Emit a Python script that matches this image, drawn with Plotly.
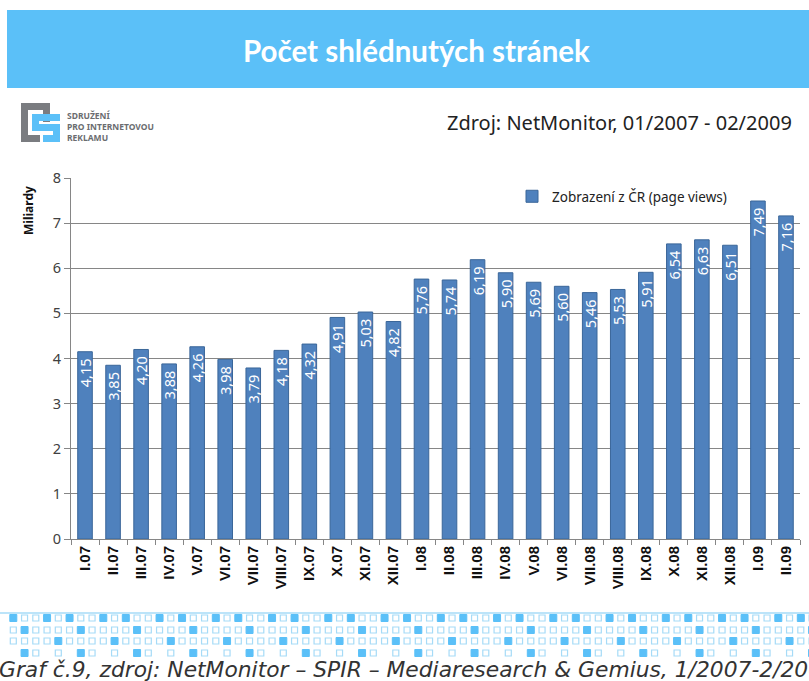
import plotly.graph_objects as go

W, H = 809, 681
# plot area in pixels
L, R, T, B = 71, 800, 178, 539

months = ["I.07", "II.07", "III.07", "IV.07", "V.07", "VI.07", "VII.07", "VIII.07",
          "IX.07", "X.07", "XI.07", "XII.07", "I.08", "II.08", "III.08", "IV.08",
          "V.08", "VI.08", "VII.08", "VIII.08", "IX.08", "X.08", "XI.08", "XII.08",
          "I.09", "II.09"]
page_views = [4.15, 3.85, 4.20, 3.88, 4.26, 3.98, 3.79, 4.18, 4.32, 4.91, 5.03, 4.82,
              5.76, 5.74, 6.19, 5.90, 5.69, 5.60, 5.46, 5.53, 5.91, 6.54, 6.63, 6.51,
              7.49, 7.16]
series_name = "Zobrazení z ČR (page views)"

BLUE = "#4F81BD"
SKY = "#5BC0F8"
SKY_LIGHT = "#A6DBF7"


def px_x(x):
    return (x - L) / (R - L)


def px_y(y):
    return (B - y) / (B - T)


def rect(x0, y0, x1, y1, fill, line=None, lw=0):
    return dict(type="rect", xref="paper", yref="paper",
                x0=px_x(x0), x1=px_x(x1), y0=px_y(y1), y1=px_y(y0),
                fillcolor=fill, line=dict(color=line or fill, width=lw), layer="below")


fig = go.Figure()
fig.add_trace(go.Bar(
    x=months,
    y=page_views,
    name=series_name,
    marker=dict(color=BLUE, line=dict(color="#3A6699", width=1)),
    # trailing nbsp keeps the label a little below the bar top, like the original
    text=[f"{v:.2f}".replace(".", ",") + "\u00a0" for v in page_views],
    textposition="inside",
    insidetextanchor="end",
    textangle=-90,
    constraintext="none",
    textfont=dict(color="white", size=14.5, family="Noto Sans"),
    showlegend=True,
))

shapes = []
# title banner
shapes.append(rect(7, 10, 812, 88, SKY))
# logo
gray = "#7A7C80"
shapes += [
    rect(21, 103, 50, 110, gray), rect(21, 103, 28, 142, gray), rect(21, 135, 40, 142, gray),
    rect(43, 103, 50, 122, gray),
    rect(32, 114, 60, 121, SKY), rect(32, 114, 39, 131, SKY), rect(32, 124, 60, 131, SKY),
    rect(53, 124, 60, 142, SKY), rect(43, 135, 60, 142, SKY),
]
# decorative footer
shapes.append(dict(type="line", xref="paper", yref="paper", x0=px_x(0), x1=px_x(W),
                   y0=px_y(613), y1=px_y(613), line=dict(color=SKY_LIGHT, width=1.5)))
rows_y = [618, 630, 641, 653]
for i in range(73):
    cx = 13.3 + 11.25 * i
    k = i % 5
    kinds = [
        "f" if k in (0, 3) else "o",
        "f" if k == 1 else "o",
        "f" if k == 4 else "o",
        "f" if k == 1 else ("o" if k in (2, 4) else None),
    ]
    for ry, kind in zip(rows_y, kinds):
        if kind is None:
            continue
        if kind == "f":
            shapes.append(rect(cx - 3.5, ry - 3.5, cx + 3.5, ry + 3.5, SKY, SKY, 1))
        else:
            shapes.append(rect(cx - 3, ry - 3, cx + 3, ry + 3, "white", SKY_LIGHT, 1.2))

annotations = [
    dict(text="<b>Počet shlédnutých stránek</b>", x=px_x(416), y=px_y(50),
         font=dict(family="Lato", size=29.5, color="white")),
    dict(text="<b>SDRUŽENÍ<br>PRO INTERNETOVOU<br>REKLAMU</b>", x=px_x(65), y=px_y(126),
         xanchor="left", align="left", font=dict(family="Noto Sans", size=8.5, color="#6B6D70")),
    dict(text="Zdroj: NetMonitor, 01/2007 - 02/2009", x=px_x(794), y=px_y(123),
         xanchor="right", font=dict(family="Noto Sans", size=20, color="#222222")),
    dict(text="<b>Miliardy</b>", x=px_x(28), y=px_y(211), textangle=-90,
         font=dict(family="Noto Sans", size=12, color="#111111")),
    dict(text="<i>Graf č.9, zdroj: NetMonitor – SPIR – Mediaresearch & Gemius, 1/2007-2/2009</i>",
         x=px_x(-3), y=px_y(669), xanchor="left",
         font=dict(family="DejaVu Sans", size=21.8, color="#333333")),
]
for a in annotations:
    a.update(xref="paper", yref="paper", showarrow=False)
    a.setdefault("xanchor", "center")
    a.setdefault("yanchor", "middle")

fig.update_layout(
    width=W, height=H,
    margin=dict(l=L, r=W - R, t=T, b=H - B),
    paper_bgcolor="white", plot_bgcolor="white",
    bargap=0.48,
    font=dict(family="Noto Sans", color="#404040"),
    shapes=shapes,
    annotations=annotations,
    legend=dict(x=px_x(512), y=px_y(181), xanchor="left", yanchor="top",
                bgcolor="rgba(0,0,0,0)", font=dict(size=13.5, color="#222222"),
                itemwidth=30),
    xaxis=dict(
        showgrid=False, showline=True, linecolor="#868686", linewidth=1,
        ticks="outside", tickson="boundaries", ticklen=5, tickcolor="#868686",
        tickangle=-90, tickfont=dict(family="Liberation Sans", size=15, color="#111111"),
        tickprefix="<b>", ticksuffix="</b>",
    ),
    yaxis=dict(
        range=[0, 8], dtick=1, showgrid=True, gridcolor="#868686", gridwidth=1,
        showline=True, linecolor="#868686", ticks="outside", ticklen=6, tickcolor="#868686",
        tickfont=dict(size=14.5, color="#404040"), zeroline=False,
    ),
)

# the page's default body margin would shift the whole figure by 8px
fig.write_html("out.html", config={"displayModeBar": False},
               post_script="document.body.style.margin='0';")
